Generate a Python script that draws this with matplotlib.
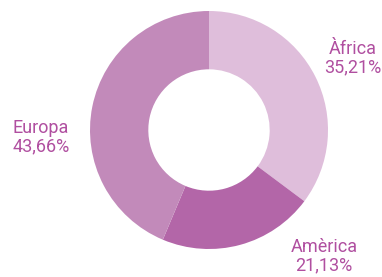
import matplotlib
matplotlib.use("Agg")
import matplotlib.pyplot as plt

regions = ["Àfrica", "Amèrica", "Europa"]
values = [35.21, 21.13, 43.66]
labels = ["35,21%", "21,13%", "43,66%"]
colors = ["#dfbedb", "#b366a8", "#c28aba"]
text_color = "#b04fa0"

W, H = 382, 277
fig = plt.figure(figsize=(W / 100, H / 100), dpi=100)
ax = fig.add_axes([0, 0, 1, 1])

cx, cy, R = 209, H - 130, 119
ax.pie(values, colors=colors, startangle=90, counterclock=False,
       center=(cx, cy), radius=R, wedgeprops=dict(width=R * 0.49, linewidth=0),
       frame=True)
ax.set_xlim(0, W)
ax.set_ylim(0, H)
ax.set_aspect("equal")
ax.axis("off")

pos = {"Àfrica": (353, 58), "Amèrica": (324, 256), "Europa": (41, 137)}
for r, l in zip(regions, labels):
    x, y = pos[r]
    ax.text(x, H - y, f"{r}\n{l}", ha="center", va="center", color=text_color,
            fontsize=13, family=["Roboto", "DejaVu Sans"], fontstretch="condensed",
            linespacing=1.05)

fig.savefig("out.png", dpi=100)
